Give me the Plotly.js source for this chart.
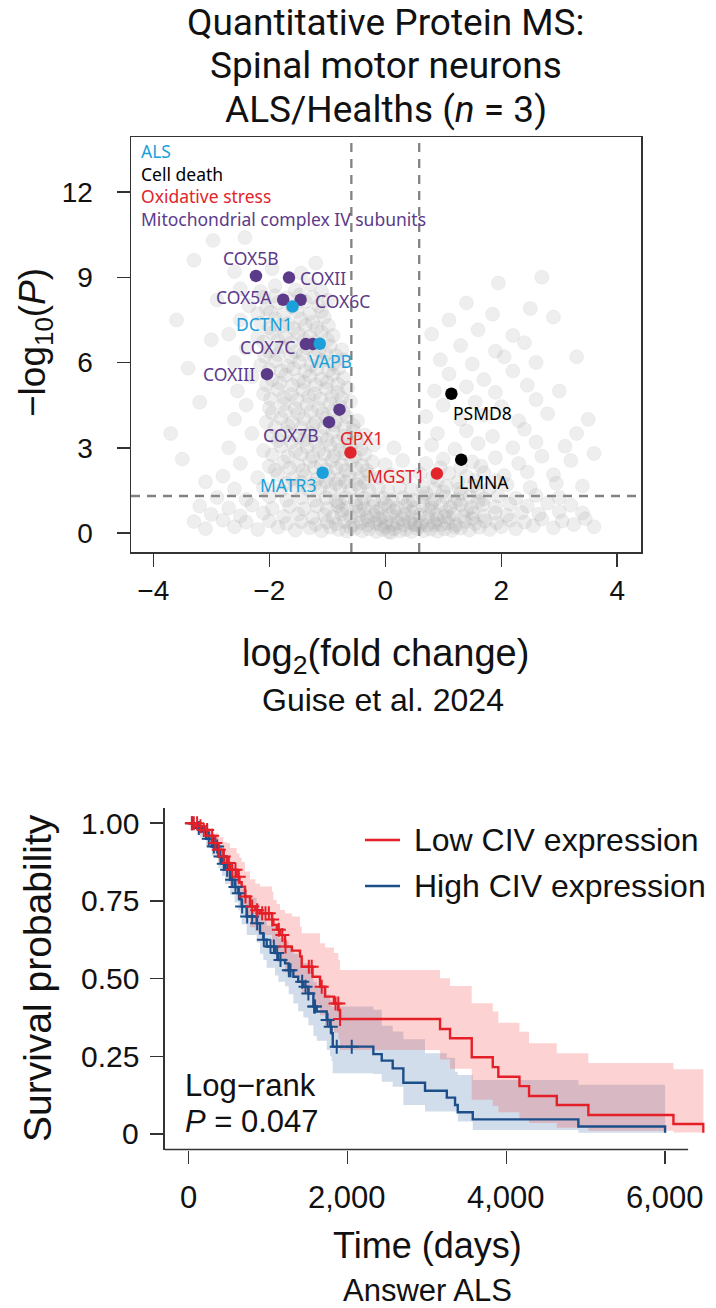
<!DOCTYPE html>
<html><head><meta charset="utf-8">
<script src="https://cdn.plot.ly/plotly-3.0.1.min.js"></script>
<style>html,body{margin:0;padding:0;background:#fff;}</style>
</head><body><div id="chart" style="width:716px;height:1308px;"></div>
<script>
// ---------------- DATA: volcano ----------------
const volcanoXTicks = [-4, -2, 0, 2, 4];
const volcanoYTicks = [0, 3, 6, 9, 12];
const fcCut = 0.585;      // log2(1.5)
const pCut = 1.301;       // -log10(0.05)

// background proteins (log2FC, -log10 P)
const bgPoints = [
[-3.1,0.15],[-2.6,0.22],[-2.2,0.12],[-1.85,0.2],[-1.55,0.1],[-1.3,0.18],[-1.1,0.08],[-0.95,0.2],[-0.8,0.12],[-0.66,0.06],[-0.52,0.16],[-0.4,0.08],[-0.28,0.14],[-0.15,0.05],[-0.05,0.12],[0.06,0.04],[0.15,0.15],[0.25,0.07],[0.35,0.12],[0.45,0.05],[0.55,0.16],[0.66,0.08],[0.78,0.13],[0.9,0.06],[1.02,0.14],[1.15,0.09],[1.3,0.17],[1.45,0.1],[1.62,0.2],[1.8,0.12],[2.0,0.22],[2.25,0.15],[2.55,0.25],[2.9,0.18],[3.25,0.3],[3.6,0.22],
[-3.3,0.4],[-2.8,0.45],[-2.4,0.38],[-2.0,0.42],[-1.7,0.33],[-1.45,0.4],[-1.2,0.3],[-1.0,0.38],[-0.85,0.32],[-0.7,0.4],[-0.55,0.3],[-0.42,0.37],[-0.3,0.28],[-0.18,0.35],[-0.08,0.3],[0.02,0.38],[0.12,0.3],[0.22,0.36],[0.32,0.28],[0.42,0.38],[0.52,0.3],[0.62,0.36],[0.72,0.28],[0.84,0.38],[0.96,0.3],[1.08,0.36],[1.22,0.3],[1.38,0.4],[1.55,0.33],[1.72,0.42],[1.92,0.36],[2.15,0.45],[2.4,0.38],[2.7,0.48],[3.05,0.42],[3.45,0.5],
[-3.0,0.65],[-2.5,0.6],[-2.1,0.7],[-1.75,0.58],[-1.5,0.66],[-1.25,0.55],[-1.05,0.64],[-0.9,0.56],[-0.75,0.66],[-0.6,0.58],[-0.45,0.64],[-0.32,0.55],[-0.2,0.62],[-0.05,0.56],[0.08,0.64],[0.2,0.57],[0.33,0.65],[0.46,0.56],[0.6,0.63],[0.74,0.56],[0.88,0.65],[1.02,0.58],[1.18,0.66],[1.35,0.58],[1.52,0.68],[1.7,0.6],[1.9,0.7],[2.1,0.62],[2.35,0.72],[2.65,0.66],[3.0,0.75],[3.4,0.7],
[-3.2,0.95],[-2.7,0.88],[-2.3,0.98],[-1.95,0.86],[-1.65,0.94],[-1.4,0.85],[-1.18,0.95],[-1.0,0.86],[-0.82,0.96],[-0.66,0.87],[-0.5,0.95],[-0.36,0.85],[-0.22,0.93],[-0.08,0.86],[0.06,0.95],[0.2,0.87],[0.35,0.96],[0.5,0.88],[0.65,0.97],[0.8,0.88],[0.96,0.98],[1.12,0.9],[1.3,1.0],[1.48,0.9],[1.68,1.0],[1.9,0.92],[2.15,1.02],[2.45,0.95],[2.8,1.05],[3.2,0.98],
[-2.9,1.25],[-2.4,1.18],[-2.0,1.28],[-1.7,1.16],[-1.45,1.25],[-1.22,1.15],[-1.02,1.24],[-0.85,1.14],[-0.68,1.24],[-0.52,1.15],[-0.36,1.22],[-0.2,1.14],[-0.04,1.22],[0.12,1.15],[0.3,1.24],[0.48,1.16],[0.66,1.26],[0.85,1.17],[1.04,1.27],[1.25,1.18],[1.46,1.28],[1.7,1.2],[1.95,1.3],[2.25,1.22],[2.6,1.32],[3.0,1.25],
[-2.6,1.55],[-2.1,1.6],[-1.8,1.5],[-1.55,1.62],[-1.32,1.52],[-1.12,1.6],[-0.95,1.5],[-0.78,1.62],[-0.6,1.52],[-0.44,1.6],[-0.28,1.5],[-0.12,1.58],[0.05,1.5],[0.25,1.6],[0.45,1.52],[0.65,1.62],[0.85,1.54],[1.05,1.64],[1.28,1.55],[1.52,1.66],[1.8,1.58],[2.1,1.7],[2.5,1.6],[2.95,1.75],[3.4,1.65],
[-2.8,2.0],[-2.2,1.95],[-1.85,2.05],[-1.6,1.92],[-1.38,2.02],[-1.18,1.9],[-0.98,2.0],[-0.8,1.9],[-0.62,2.02],[-0.45,1.92],[-0.28,2.05],[-0.1,1.95],[0.1,2.05],[0.35,1.95],[0.6,2.08],[0.82,1.98],[1.1,2.1],[1.4,2.0],[1.7,2.12],[2.05,2.02],[2.45,2.15],[2.9,2.05],
[-2.5,2.45],[-2.0,2.35],[-1.75,2.5],[-1.5,2.38],[-1.3,2.52],[-1.1,2.4],[-0.92,2.55],[-0.75,2.4],[-0.58,2.52],[-0.4,2.38],[-0.22,2.5],[0.0,2.4],[0.3,2.55],[0.7,2.45],[1.0,2.6],[1.5,2.5],[1.9,2.65],[2.3,2.45],[2.7,2.7],[3.2,2.55],
[-2.7,3.0],[-2.1,2.9],[-1.8,3.05],[-1.55,2.88],[-1.35,3.02],[-1.15,2.9],[-0.95,3.06],[-0.78,2.92],[-0.6,3.05],[-0.42,2.95],[-0.2,3.1],[0.15,3.0],[0.8,3.1],[1.2,2.95],[1.6,3.15],[2.2,3.0],[2.6,3.2],[3.1,3.05],
[-2.3,3.5],[-1.95,3.4],[-1.7,3.55],[-1.5,3.38],[-1.3,3.52],[-1.1,3.4],[-0.9,3.55],[-0.72,3.42],[-0.55,3.6],[-0.35,3.45],[0.9,3.5],[1.4,3.6],[1.85,3.4],[2.4,3.65],[3.3,3.5],
[-2.6,4.0],[-2.05,3.9],[-1.8,4.05],[-1.6,3.88],[-1.4,4.02],[-1.2,3.9],[-1.02,4.05],[-0.85,3.92],[-0.66,4.08],[-0.48,3.95],[0.7,4.1],[1.3,4.0],[1.7,4.15],[2.3,3.95],[2.8,4.2],
[-2.4,4.5],[-2.0,4.4],[-1.75,4.55],[-1.55,4.38],[-1.35,4.52],[-1.15,4.4],[-0.95,4.56],[-0.78,4.45],[-0.6,4.62],[1.0,4.5],[1.55,4.6],[2.0,4.45],[2.6,4.7],
[-2.55,5.0],[-2.1,4.9],[-1.85,5.05],[-1.62,4.88],[-1.42,5.02],[-1.22,4.9],[-1.02,5.08],[-0.82,4.95],[-0.65,5.1],[0.85,5.0],[1.4,5.15],[1.9,4.95],[2.45,5.2],[3.0,5.0],
[-2.3,5.5],[-1.95,5.4],[-1.72,5.55],[-1.5,5.38],[-1.3,5.52],[-1.1,5.42],[-0.9,5.58],[-0.72,5.45],[1.1,5.6],[1.7,5.4],[2.2,5.7],
[-2.6,6.0],[-2.15,5.9],[-1.9,6.05],[-1.68,5.88],[-1.48,6.02],[-1.28,5.9],[-1.08,6.08],[-0.9,5.95],[-0.7,6.1],[0.95,6.1],[1.5,5.95],[2.05,6.2],[2.6,6.0],
[-2.4,6.5],[-2.0,6.4],[-1.78,6.55],[-1.55,6.38],[-1.35,6.52],[-1.15,6.42],[-0.95,6.58],[-0.75,6.45],[1.3,6.6],[1.9,6.4],[2.4,6.7],
[-2.7,7.0],[-2.2,6.9],[-1.95,7.05],[-1.72,6.88],[-1.5,7.02],[-1.3,6.92],[-1.1,7.08],[-0.9,6.95],[0.8,7.0],[1.6,7.15],[2.2,6.95],
[-2.5,7.5],[-2.15,7.4],[-1.9,7.55],[-1.68,7.38],[-1.45,7.52],[-1.25,7.42],[-1.05,7.6],[1.1,7.5],[1.85,7.7],
[-2.35,8.0],[-2.05,7.9],[-1.85,8.1],[-1.6,7.95],[-1.38,8.15],[-1.15,8.0],[-0.98,8.2],[1.4,8.1],[2.5,7.9],
[-2.5,8.6],[-2.15,8.5],[-1.9,8.7],[-1.55,8.55],[-1.3,8.75],[-1.1,8.5],[1.95,8.8],
[-2.6,9.2],[-1.95,9.3],[-1.45,9.15],[-2.97,10.3],[-2.42,10.4],[-3.3,9.6],[-1.2,9.5],
[-3.7,3.5],[-3.5,2.6],[-3.2,4.6],[-3.4,5.8],[-3.0,6.8],[-2.9,8.2],[-3.6,7.5],[-3.1,1.8],
[3.5,4.0],[3.3,6.2],[2.9,7.6],[3.6,2.8],[2.7,9.0],
[-1.7,1.75],[-1.45,1.78],[-1.22,1.72],[-1.02,1.8],[-0.85,1.74],[-0.68,1.8],[-0.5,1.72],[-0.35,1.78],
[-1.9,2.22],[-1.65,2.28],[-1.42,2.2],[-1.22,2.3],[-1.02,2.22],[-0.85,2.28],[-0.68,2.2],[-0.5,2.26],[-0.32,2.2],
[-1.95,2.75],[-1.68,2.7],[-1.45,2.78],[-1.25,2.7],[-1.05,2.78],[-0.88,2.72],[-0.7,2.8],[-0.52,2.7],[-0.35,2.76],
[-1.85,3.25],[-1.62,3.2],[-1.4,3.28],[-1.2,3.2],[-1.0,3.28],[-0.82,3.22],[-0.65,3.3],[-0.48,3.2],
[-1.9,3.72],[-1.68,3.78],[-1.45,3.7],[-1.25,3.78],[-1.05,3.72],[-0.88,3.8],[-0.7,3.72],[-0.55,3.78],
[-1.95,4.22],[-1.72,4.28],[-1.5,4.2],[-1.28,4.28],[-1.08,4.2],[-0.9,4.3],[-0.72,4.22],
[-1.98,4.72],[-1.75,4.78],[-1.52,4.7],[-1.32,4.8],[-1.12,4.72],[-0.92,4.8],[-0.75,4.74],
[-2.05,5.22],[-1.82,5.28],[-1.6,5.2],[-1.4,5.3],[-1.2,5.22],[-1.0,5.3],[-0.82,5.24],
[-2.0,5.75],[-1.8,5.7],[-1.58,5.78],[-1.38,5.7],[-1.18,5.78],[-0.98,5.72],[-0.8,5.8],
[-2.08,6.22],[-1.85,6.28],[-1.62,6.2],[-1.42,6.3],[-1.22,6.22],[-1.02,6.3],[-0.85,6.24],
[-2.1,6.72],[-1.85,6.78],[-1.62,6.7],[-1.4,6.8],[-1.2,6.72],[-1.0,6.8],
[-2.0,7.22],[-1.8,7.28],[-1.58,7.2],[-1.38,7.3],[-1.18,7.22],[-0.98,7.3],
[-2.2,7.72],[-1.98,7.78],[-1.75,7.7],[-1.52,7.8],[-1.3,7.72],[-1.1,7.8],
[-2.1,8.3],[-1.9,8.35],[-1.7,8.28],[-1.48,8.38],[-1.25,8.3],
[-0.6,0.2],[-0.3,0.45],[0.0,0.22],[0.3,0.48],[0.6,0.25],[0.9,0.48],[1.2,0.22],[1.5,0.5],[-0.15,0.75],[0.15,0.78],[0.45,0.75],[0.75,0.8],[1.05,0.76],[1.4,0.8],[-0.45,0.78],[-0.75,0.8],[0.0,1.05],[0.4,1.08],[0.8,1.05],[1.2,1.1],[-0.4,1.05],[-0.8,1.08],[1.6,1.1],[0.1,0.02],[0.5,0.3],[0.85,0.3],[1.1,0.55],[-0.1,0.5],
[0.7,1.4],[1.0,1.45],[1.3,1.4],[1.6,1.45],[0.9,1.85],[1.25,1.8],[1.55,1.85],[0.95,2.3],[1.3,2.3],[1.65,2.35],[1.9,1.85]
];

// highlighted proteins by category
const mitoGenes = ['COX5B', 'COXII', 'COX5A', 'COX6C', 'COX7C', '', 'COXIII', '', 'COX7B'];
const mitoX     = [-2.23, -1.66, -1.76, -1.46, -1.37, -1.25, -2.04, -0.79, -0.97];
const mitoY     = [9.05, 8.99, 8.21, 8.21, 6.65, 6.65, 5.59, 4.34, 3.90];
const alsGenes  = ['DCTN1', 'VAPB', 'MATR3'];
const alsX      = [-1.60, -1.13, -1.08];
const alsY      = [7.97, 6.66, 2.12];
const deathGenes = ['PSMD8', 'LMNA'];
const deathX     = [1.14, 1.31];
const deathY     = [4.90, 2.58];
const oxGenes   = ['GPX1', 'MGST1'];
const oxX       = [-0.60, 0.89];
const oxY       = [2.83, 2.09];
const categoryNames = ['ALS', 'Cell death', 'Oxidative stress', 'Mitochondrial complex IV subunits'];
const titleLines = ['Quantitative Protein MS:', 'Spinal motor neurons', 'ALS/Healths (<i>n</i> = 3)'];

// ---------------- DATA: Kaplan-Meier ----------------
const kmXTicks = [0, 2000, 4000, 6000];
const kmXTickText = ['0', '2,000', '4,000', '6,000'];
const kmYTicks = [0, 0.25, 0.5, 0.75, 1];
const kmYTickText = ['0', '0.25', '0.50', '0.75', '1.00'];
const groupNames = ['Low CIV expression', 'High CIV expression'];

const lowT  = [0,120,185,250,311,370,437,480,521,605,640,668,710,773,840,899,1050,1067,1110,1151,1214,1300,1403,1424,1560,1655,1718,1830,1886,1907,3166,3292,3565,3830,3900,4166,4287,4636,5034,6105,6482];
const lowS  = [1.0,0.99,0.978,0.96,0.936,0.915,0.893,0.872,0.850,0.828,0.81,0.796,0.764,0.732,0.72,0.71,0.69,0.673,0.657,0.64,0.603,0.59,0.571,0.538,0.506,0.474,0.442,0.42,0.399,0.37,0.338,0.308,0.247,0.215,0.184,0.154,0.122,0.093,0.061,0.032,0.004];
const lowUp = [1.0,1.0,0.995,0.985,0.968,0.955,0.94,0.936,0.92,0.903,0.89,0.875,0.845,0.82,0.805,0.796,0.78,0.753,0.74,0.721,0.71,0.70,0.667,0.646,0.646,0.614,0.60,0.582,0.56,0.528,0.501,0.476,0.421,0.394,0.358,0.329,0.292,0.26,0.228,0.208,0.208];
const lowLo = [1.0,0.975,0.96,0.935,0.905,0.878,0.85,0.826,0.8,0.775,0.755,0.738,0.70,0.665,0.652,0.64,0.615,0.597,0.578,0.56,0.52,0.505,0.484,0.45,0.416,0.382,0.35,0.326,0.305,0.27,0.24,0.21,0.11,0.09,0.07,0.05,0.035,0.02,0.01,0.005,0.0];
const lowCensor = [40,65,107,149,191,233,296,338,380,443,506,548,590,632,716,800,863,926,968,1010,1052,1136,1180,1220,1514,1550,1676,1850,1885,1907];

const highT  = [0,100,143,220,291,374,420,458,521,580,626,650,668,731,857,899,940,983,1088,1130,1214,1260,1319,1380,1445,1508,1571,1613,1739,1781,1800,1815,2326,2432,2570,2704,2977,3251,3355,3389,3578,4908,6000];
const highS  = [1.0,0.985,0.973,0.95,0.925,0.893,0.87,0.85,0.818,0.795,0.775,0.755,0.732,0.70,0.678,0.646,0.625,0.603,0.582,0.56,0.549,0.527,0.506,0.49,0.474,0.452,0.41,0.394,0.367,0.345,0.324,0.281,0.257,0.236,0.211,0.165,0.139,0.117,0.093,0.07,0.047,0.024,0.004];
const highUp = [1.0,1.0,0.99,0.975,0.955,0.93,0.91,0.895,0.865,0.845,0.83,0.81,0.79,0.76,0.74,0.71,0.69,0.67,0.65,0.63,0.62,0.60,0.58,0.565,0.55,0.53,0.49,0.475,0.45,0.43,0.41,0.41,0.40,0.348,0.33,0.305,0.26,0.245,0.20,0.19,0.174,0.158,0.158];
const highLo = [1.0,0.97,0.955,0.925,0.895,0.855,0.83,0.805,0.77,0.745,0.72,0.70,0.675,0.64,0.615,0.58,0.56,0.535,0.51,0.49,0.475,0.45,0.42,0.395,0.375,0.35,0.315,0.30,0.27,0.25,0.235,0.195,0.193,0.168,0.152,0.093,0.072,0.072,0.072,0.04,0.013,0.004,0.0];
const highCensor = [44,128,254,317,359,401,443,485,548,590,632,674,737,800,863,947,1031,1073,1115,1157,1262,1283,1430,1472,1508,1580,1592,1750,1790,1865,2054];

// ---------------- STYLE ----------------
const W = 716, H = 1308;
const px = x => x / W;
const py = y => 1 - y / H;
const RFONT = 'Liberation Sans, Arial, Helvetica, sans-serif';
const TFONT = '"Noto Sans", Roboto, sans-serif';
const HFONT = 'Roboto, "Noto Sans", sans-serif';
const C_ALS = '#1BA0DA', C_DEATH = '#000000', C_OX = '#E2242B', C_MITO = '#5C3A8A';
const C_LOW = '#E41F27', C_HIGH = '#1C4F8A';
const AX = '#333333';

const labelStyle = {
  COX5B: {xs: -5, ys: 18, xa: 'center'},
  COXII: {xs: 9, ys: 0, xa: 'left'},
  COX5A: {xs: -9, ys: 3, xa: 'right'},
  COX6C: {xs: 12, ys: -1, xa: 'left'},
  COX7C: {xs: -9, ys: -3, xa: 'right'},
  COXIII:{xs: -10, ys: 0, xa: 'right'},
  COX7B: {xs: -38, ys: -13, xa: 'center'},
  DCTN1: {xs: -28, ys: -17, xa: 'center'},
  VAPB:  {xs: 11, ys: -17, xa: 'center'},
  MATR3: {xs: -35, ys: -12, xa: 'center'},
  PSMD8: {xs: 31, ys: -19, xa: 'center'},
  LMNA:  {xs: 23, ys: -22, xa: 'center'},
  GPX1:  {xs: 11, ys: 15, xa: 'center'},
  MGST1: {xs: -10, ys: -2, xa: 'right'}
};

function stepAt(T, S, t) { let v = S[0]; for (let i = 0; i < T.length; i++) { if (T[i] <= t) v = S[i]; } return v; }

// ---------------- TRACES ----------------
const traces = [];
traces.push({
  type: 'scatter', mode: 'markers', xaxis: 'x', yaxis: 'y', hoverinfo: 'skip', showlegend: false,
  x: bgPoints.map(p => p[0]), y: bgPoints.map(p => p[1]),
  marker: {size: 14, color: 'rgba(168,168,168,0.2)', line: {width: 0.5, color: 'rgba(145,145,145,0.18)'}}
});
const cats = [
  {x: mitoX, y: mitoY, g: mitoGenes, c: C_MITO},
  {x: oxX, y: oxY, g: oxGenes, c: C_OX},
  {x: deathX, y: deathY, g: deathGenes, c: C_DEATH},
  {x: alsX, y: alsY, g: alsGenes, c: C_ALS}
];
cats.forEach(k => traces.push({
  type: 'scatter', mode: 'markers', xaxis: 'x', yaxis: 'y', showlegend: false,
  x: k.x, y: k.y, marker: {size: 12.5, color: k.c, line: {width: 0}}
}));

// KM bands
function band(T, up, lo, fillc) {
  traces.push({type: 'scatter', mode: 'lines', xaxis: 'x2', yaxis: 'y2', x: T, y: lo, line: {shape: 'hv', width: 0}, showlegend: false, hoverinfo: 'skip'});
  traces.push({type: 'scatter', mode: 'lines', xaxis: 'x2', yaxis: 'y2', x: T, y: up, line: {shape: 'hv', width: 0}, fill: 'tonexty', fillcolor: fillc, showlegend: false, hoverinfo: 'skip'});
}
band(highT, highUp, highLo, 'rgba(70,120,170,0.25)');
band(lowT, lowUp, lowLo, 'rgba(240,60,60,0.23)');
traces.push({type: 'scatter', mode: 'lines', xaxis: 'x2', yaxis: 'y2', x: highT, y: highS, line: {shape: 'hv', width: 2.4, color: C_HIGH}, showlegend: false});
traces.push({type: 'scatter', mode: 'lines', xaxis: 'x2', yaxis: 'y2', x: lowT, y: lowS, line: {shape: 'hv', width: 2.4, color: C_LOW}, showlegend: false});
traces.push({type: 'scatter', mode: 'markers', xaxis: 'x2', yaxis: 'y2', x: highCensor, y: highCensor.map(t => stepAt(highT, highS, t)),
  marker: {symbol: 'cross-thin', size: 10, line: {width: 2, color: C_HIGH}}, showlegend: false});
traces.push({type: 'scatter', mode: 'markers', xaxis: 'x2', yaxis: 'y2', x: lowCensor, y: lowCensor.map(t => stepAt(lowT, lowS, t)),
  marker: {symbol: 'cross-thin', size: 10, line: {width: 2, color: C_LOW}}, showlegend: false});

// ---------------- ANNOTATIONS ----------------
const ann = [];
cats.forEach(k => k.g.forEach((g, i) => {
  if (!g) return;
  const s = labelStyle[g];
  ann.push({xref: 'x', yref: 'y', x: k.x[i], y: k.y[i], text: g, showarrow: false, xanchor: s.xa, yanchor: 'middle',
    xshift: s.xs, yshift: s.ys, font: {family: TFONT, size: 17.5, color: k.c}});
}));
const legColors = [C_ALS, C_DEATH, C_OX, C_MITO];
const legY = [151, 174, 196, 219];
categoryNames.forEach((n, i) => ann.push({xref: 'paper', yref: 'paper', x: px(139), y: py(legY[i]), xanchor: 'left', yanchor: 'middle',
  text: n, showarrow: false, font: {family: TFONT, size: 17.5, color: legColors[i]}}));

// title lines
const titleY = [22, 65.5, 109];
titleLines.forEach((t, i) => ann.push({xref: 'paper', yref: 'paper', x: px(386), y: py(titleY[i]), xanchor: 'center', yanchor: 'middle', showarrow: false,
  text: t, font: {family: HFONT, size: 37, color: '#111'}}));
// axis titles
ann.push({xref: 'paper', yref: 'paper', x: px(35), y: py(343), textangle: -90, xanchor: 'center', yanchor: 'middle', showarrow: false,
  text: '\u2212log<sub>10</sub>(<i>P</i>)', font: {family: RFONT, size: 37, color: '#111'}});
ann.push({xref: 'paper', yref: 'paper', x: px(385), y: py(656), xanchor: 'center', yanchor: 'middle', showarrow: false,
  text: 'log<sub>2</sub>(fold change)', font: {family: RFONT, size: 38, color: '#111'}});
ann.push({xref: 'paper', yref: 'paper', x: px(383), y: py(700), xanchor: 'center', yanchor: 'middle', showarrow: false,
  text: 'Guise et al. 2024', font: {family: RFONT, size: 32, color: '#111'}});
ann.push({xref: 'paper', yref: 'paper', x: px(37), y: py(978), textangle: -90, xanchor: 'center', yanchor: 'middle', showarrow: false,
  text: 'Survival probability', font: {family: RFONT, size: 39, color: '#111'}});
ann.push({xref: 'paper', yref: 'paper', x: px(427), y: py(1245), xanchor: 'center', yanchor: 'middle', showarrow: false,
  text: 'Time (days)', font: {family: RFONT, size: 36, color: '#111'}});
ann.push({xref: 'paper', yref: 'paper', x: px(427), y: py(1290), xanchor: 'center', yanchor: 'middle', showarrow: false,
  text: 'Answer ALS', font: {family: RFONT, size: 31, color: '#111'}});
ann.push({xref: 'paper', yref: 'paper', x: px(183), y: py(1085), xanchor: 'left', yanchor: 'middle', showarrow: false,
  text: 'Log\u2212rank', font: {family: RFONT, size: 31, color: '#111'}});
ann.push({xref: 'paper', yref: 'paper', x: px(183), y: py(1121), xanchor: 'left', yanchor: 'middle', showarrow: false,
  text: '<i>P</i> = 0.047', font: {family: RFONT, size: 31, color: '#111'}});
// KM tick labels (placed as annotations for exact position)
kmXTicks.forEach((v, i) => ann.push({xref: 'x2', yref: 'paper', x: v, y: py(1197), xanchor: 'center', yanchor: 'middle', showarrow: false,
  text: kmXTickText[i], font: {family: RFONT, size: 31, color: '#111'}}));
kmYTicks.forEach((v, i) => ann.push({xref: 'paper', yref: 'y2', x: px(141), y: v, xanchor: 'right', yanchor: 'middle', showarrow: false,
  text: kmYTickText[i], font: {family: RFONT, size: 30, color: '#111'}}));
// KM legend
const legLineY = [840, 886];
const legLineC = [C_LOW, C_HIGH];
groupNames.forEach((n, i) => ann.push({xref: 'paper', yref: 'paper', x: px(412), y: py(legLineY[i]), xanchor: 'left', yanchor: 'middle', showarrow: false,
  text: n, font: {family: RFONT, size: 32, color: '#111'}}));

// ---------------- SHAPES ----------------
const shapes = [
  {type: 'line', layer: 'below', xref: 'x', yref: 'y domain', x0: -fcCut, x1: -fcCut, y0: 0, y1: 1, line: {color: '#828282', width: 2.3, dash: '9px,7px'}},
  {type: 'line', layer: 'below', xref: 'x', yref: 'y domain', x0: fcCut, x1: fcCut, y0: 0, y1: 1, line: {color: '#828282', width: 2.3, dash: '9px,7px'}},
  {type: 'line', layer: 'below', xref: 'x domain', yref: 'y', x0: 0, x1: 1, y0: pCut, y1: pCut, line: {color: '#828282', width: 2.3, dash: '9px,7px'}},
  {type: 'line', xref: 'x2', yref: 'y2 domain', x0: -300, x1: 6290, y0: 0, y1: 0, line: {color: AX, width: 1.5}}
];
legLineY.forEach((y, i) => shapes.push({type: 'line', xref: 'paper', yref: 'paper', x0: px(365), x1: px(400), y0: py(y), y1: py(y), line: {color: legLineC[i], width: 2.5}}));

// ---------------- LAYOUT ----------------
const layout = {
  width: W, height: H, margin: {l: 0, r: 0, t: 0, b: 0}, paper_bgcolor: '#fff', plot_bgcolor: 'rgba(0,0,0,0)', showlegend: false,
  xaxis: {domain: [px(131), px(641)], range: [-4.385, 4.41], anchor: 'y', tickvals: volcanoXTicks, ticktext: volcanoXTicks.map(v => v < 0 ? '\u2212' + Math.abs(v) : String(v)),
    ticks: 'outside', ticklen: 13, tickwidth: 1.5, tickcolor: AX, showline: true, mirror: true, linecolor: AX, linewidth: 1.5,
    showgrid: false, zeroline: false, ticklabelstandoff: 0, tickfont: {family: RFONT, size: 28, color: '#111'}},
  yaxis: {domain: [py(552), py(137)], range: [-0.67, 13.94], anchor: 'x', tickvals: volcanoYTicks,
    ticks: 'outside', ticklen: 13, tickwidth: 1.5, tickcolor: AX, showline: true, mirror: true, linecolor: AX, linewidth: 1.5,
    showgrid: false, zeroline: false, ticklabelstandoff: 18, tickfont: {family: RFONT, size: 28, color: '#111'}},
  xaxis2: {domain: [px(164.8), px(704.8)], range: [-300, 6500], anchor: 'y2', tickvals: kmXTicks, showticklabels: false,
    ticks: 'outside', ticklen: 13, tickwidth: 1.5, tickcolor: AX, showline: false, showgrid: false, zeroline: false},
  yaxis2: {domain: [py(1149.5), py(807.7)], range: [-0.05, 1.05], anchor: 'x2', tickvals: kmYTicks, showticklabels: false,
    ticks: 'outside', ticklen: 13, tickwidth: 1.5, tickcolor: AX, showline: true, linecolor: AX, linewidth: 1.5, showgrid: false, zeroline: false},
  annotations: ann,
  shapes: shapes
};

Plotly.newPlot('chart', traces, layout, {displayModeBar: false, staticPlot: true});
</script>
</body></html>
